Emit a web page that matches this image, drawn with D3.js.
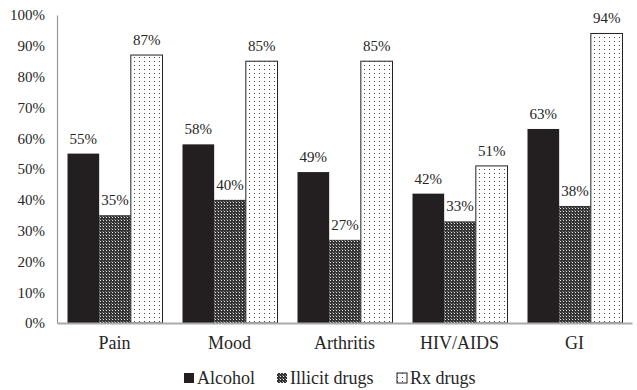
<!DOCTYPE html>
<html><head><meta charset="utf-8">
<script src="https://cdn.jsdelivr.net/npm/d3@7"></script>
<style>body{margin:0;background:#fff}svg{display:block}text{font-family:"Liberation Serif","Times New Roman",serif;fill:#262626}</style>
</head><body>
<svg id="c" width="637" height="390"></svg>
<script>
const categories = ["Pain","Mood","Arthritis","HIV/AIDS","GI"];
const seriesNames = ["Alcohol","Illicit drugs","Rx drugs"];
const alcohol = [55,58,49,42,63];
const illicit = [35,40,27,33,38];
const rx = [87,85,85,51,94];
const yTicks = [0,10,20,30,40,50,60,70,80,90,100];

const svg = d3.select("#c");
const defs = svg.append("defs");
const p1 = defs.append("pattern").attr("id","pIll").attr("patternUnits","userSpaceOnUse").attr("width",3).attr("height",3);
p1.append("rect").attr("width",3).attr("height",3).attr("fill","#333");
p1.append("rect").attr("x",1).attr("y",1).attr("width",1).attr("height",1).attr("fill","#e8e8e8");
p1.append("rect").attr("x",0).attr("y",0).attr("width",1).attr("height",1).attr("fill","#7a7a7a");
const p2 = defs.append("pattern").attr("id","pRx").attr("patternUnits","userSpaceOnUse").attr("width",5).attr("height",4);
p2.append("rect").attr("width",5).attr("height",4).attr("fill","#fff");
p2.append("rect").attr("x",2).attr("y",1).attr("width",1).attr("height",1).attr("fill","#444");

const fills = ["#231f20","url(#pIll)","url(#pRx)"];
const strokes = ["none","none","#222"];
const data = [alcohol, illicit, rx];

const mLeft = 57, mRight = 632, mTop = 15, mBottom = 323;
const y = d3.scaleLinear().domain([0,100]).range([mBottom, mTop]);
const x0 = d3.scaleBand().domain(categories).range([mLeft, mRight]);
const x1 = d3.scaleBand().domain(seriesNames).range([10.5, x0.bandwidth()-9.5]);

// axes
const yAxis = d3.axisLeft(y).tickValues(yTicks).tickFormat(d => d + "%").tickSize(0).tickPadding(12);
const gy = svg.append("g").attr("transform",`translate(${mLeft},0)`).call(yAxis);
gy.select(".domain").attr("stroke","#999").attr("stroke-width",1.2);
gy.selectAll("text").style("font-size","15px").attr("font-family",null).attr("fill","#262626");

// bars
categories.forEach((c,i) => {
  const g = svg.append("g").attr("transform",`translate(${x0(c)},0)`);
  seriesNames.forEach((s,j) => {
    const v = data[j][i];
    g.append("rect")
      .attr("x", x1(s)).attr("width", x1.bandwidth())
      .attr("y", y(v)).attr("height", y(0)-y(v))
      .attr("fill", fills[j]).attr("stroke", strokes[j]).attr("stroke-width", 1);
    g.append("text")
      .attr("x", x1(s) + x1.bandwidth()/2).attr("y", y(v) - 10)
      .attr("text-anchor","middle").style("font-size","15px")
      .text(v + "%");
  });
});

const xAxis = d3.axisBottom(x0).tickSize(0).tickPadding(13);
const gx = svg.append("g").attr("transform",`translate(0,${mBottom})`).call(xAxis);
gx.select(".domain").attr("stroke","#aaa").attr("stroke-width",2);
gx.selectAll("text").style("font-size","18px").attr("font-family",null).attr("fill","#262626");

// legend
const legX = [184, 277, 397];
seriesNames.forEach((s,j) => {
  svg.append("rect").attr("x", legX[j]).attr("y", 373).attr("width", 10).attr("height", 10)
    .attr("fill", fills[j]).attr("stroke", j===2 ? "#222" : "none");
  svg.append("text").attr("x", legX[j] + 13).attr("y", 384).style("font-size","18px").text(s);
});
</script>
</body></html>
